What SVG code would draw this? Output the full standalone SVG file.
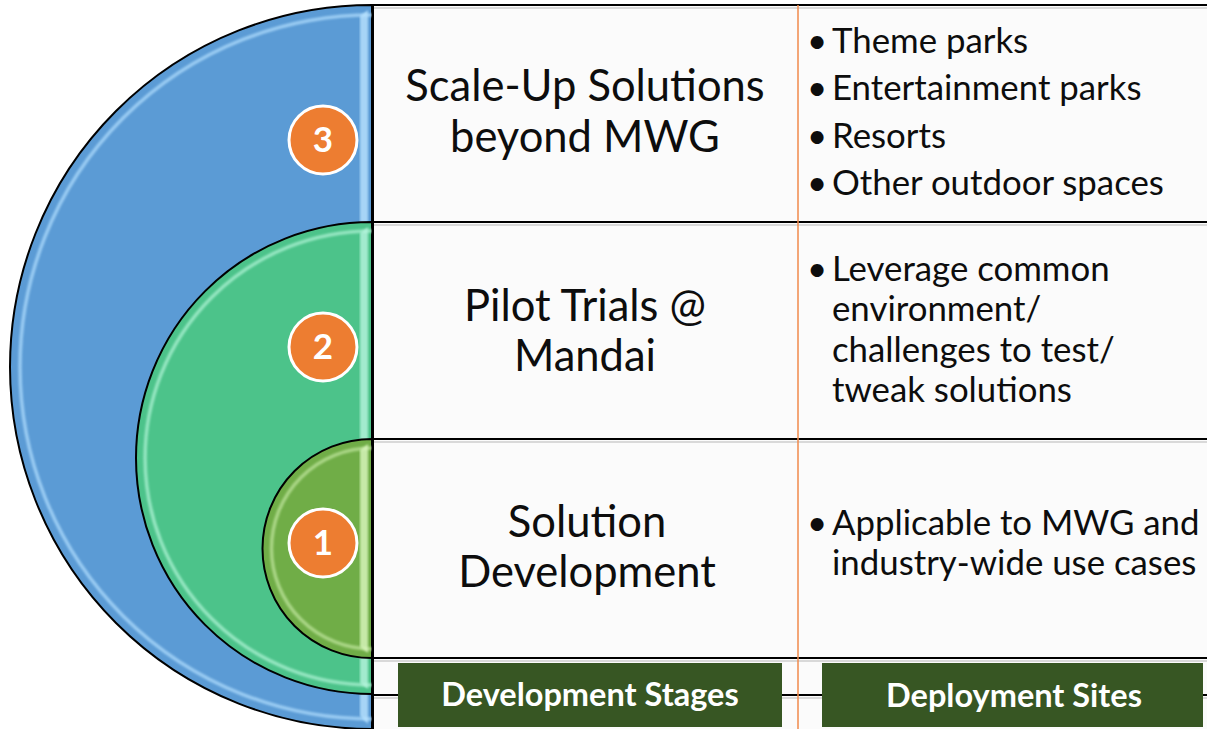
<svg xmlns="http://www.w3.org/2000/svg" width="1207" height="729" viewBox="0 0 1207 729">
  <style>
    .title { font-family: Lato, "Open Sans", sans-serif; font-size: 43.5px; fill: #0d0d0d; text-anchor: middle; }
    .item { font-family: Lato, "Open Sans", sans-serif; font-size: 34.8px; fill: #0d0d0d; }
    .dot { font-family: Lato, "Open Sans", sans-serif; font-size: 34.8px; fill: #0d0d0d; text-anchor: middle; }
    .num { font-family: Lato, "Open Sans", sans-serif; font-size: 35px; font-weight: bold; fill: #ffffff; text-anchor: middle; }
    .tag { font-family: Lato, "Open Sans", sans-serif; font-size: 32.5px; font-weight: bold; fill: #ffffff; text-anchor: middle; }
    .rule { stroke: #000000; stroke-width: 2; fill: none; }
    .shade { stroke: #d9d9d9; stroke-width: 2; fill: none; }
    .badge { fill: #ed7d31; stroke: #ffffff; stroke-width: 3; }
    .tagbox { fill: #375623; }
    .edge { stroke: #000000; stroke-width: 2; }
    .gloss { fill: none; stroke-width: 3.5; filter: url(#soft); }
  </style>
  <defs>
    <filter id="soft" x="-10%" y="-10%" width="120%" height="120%">
      <feGaussianBlur stdDeviation="1.3"/>
    </filter>
  </defs>

  <!-- table background -->
  <rect x="373" y="5" width="834" height="724" fill="#fbfbfb"/>

  <!-- stage 3: outer half disc -->
  <g id="stage3">
    <path class="edge" d="M372,5 A362,362 0 0 0 372,729 Z" fill="#5b9bd5"/>
    <path class="gloss" d="M372,15 A352,352 0 0 0 372,719" stroke="#b4e0ff" opacity="0.7"/>
    <path d="M360,16 L368,10 L368,724 L360,716 Z" fill="#b9e3ff" opacity="0.8" filter="url(#soft)"/>
    <circle class="badge" cx="323" cy="140" r="34"/>
    <text class="num" x="323" y="152">3</text>
  </g>

  <!-- stage 2: middle half disc -->
  <g id="stage2">
    <path class="edge" d="M372,222 A236,236 0 0 0 372,694 Z" fill="#4cc38a"/>
    <path class="gloss" d="M372,231 A227,227 0 0 0 372,685" stroke="#b3f5d8" opacity="0.7"/>
    <path d="M360,233 L368,227 L368,689 L360,683 Z" fill="#b8f5df" opacity="0.8" filter="url(#soft)"/>
    <circle class="badge" cx="323" cy="347" r="34"/>
    <text class="num" x="323" y="359">2</text>
  </g>

  <!-- stage 1: inner half disc -->
  <g id="stage1">
    <path class="edge" d="M372,439 A109.5,109.5 0 0 0 372,658 Z" fill="#70ad47"/>
    <path class="gloss" d="M372,448 A100.5,100.5 0 0 0 372,649" stroke="#d8f7b8" opacity="0.55"/>
    <path d="M360,450 L368,444 L368,653 L360,647 Z" fill="#dcf8c0" opacity="0.8" filter="url(#soft)"/>
    <circle class="badge" cx="323" cy="543" r="34"/>
    <text class="num" x="323" y="555">1</text>
  </g>

  <!-- table rules -->
  <g id="connectors">
    <path class="shade" d="M373,8 H1207 M373,225 H1207 M373,442 H1207 M373,661 H1207 M373,698 H1207"/>
    <path class="rule" d="M373,5 H1207 M373,222 H1207 M373,439 H1207 M373,658 H1207 M373,695 H1207"/>
    <path class="rule" d="M373,4 V729"/>
    <path d="M798,5 V729" stroke="#f08a4b" stroke-width="1.5"/>
  </g>

  <!-- row 3 texts -->
  <g id="row3">
    <text class="title" x="585" y="101">Scale-Up Solutions</text>
    <text class="title" x="585" y="152">beyond MWG</text>
    <text class="dot" x="817" y="53">•</text>
    <text class="item" x="832" y="53">Theme parks</text>
    <text class="dot" x="817" y="100">•</text>
    <text class="item" x="832" y="100">Entertainment parks</text>
    <text class="dot" x="817" y="148">•</text>
    <text class="item" x="832" y="148">Resorts</text>
    <text class="dot" x="817" y="195">•</text>
    <text class="item" x="832" y="195">Other outdoor spaces</text>
  </g>

  <!-- row 2 texts -->
  <g id="row2">
    <text class="title" x="585" y="321">Pilot Trials @</text>
    <text class="title" x="585" y="371">Mandai</text>
    <text class="dot" x="817" y="281">•</text>
    <text class="item" x="832" y="281">Leverage common</text>
    <text class="item" x="832" y="321">environment/</text>
    <text class="item" x="832" y="362">challenges to test/</text>
    <text class="item" x="832" y="402">tweak solutions</text>
  </g>

  <!-- row 1 texts -->
  <g id="row1">
    <text class="title" x="587" y="537">Solution</text>
    <text class="title" x="587" y="587">Development</text>
    <text class="dot" x="817" y="535">•</text>
    <text class="item" x="832" y="535">Applicable to MWG and</text>
    <text class="item" x="832" y="575">industry-wide use cases</text>
  </g>

  <!-- column headers -->
  <g id="stagesLabel">
    <rect class="tagbox" x="398" y="663" width="384" height="64"/>
    <text class="tag" x="590" y="706">Development Stages</text>
  </g>
  <g id="sitesLabel">
    <rect class="tagbox" x="822" y="663" width="381" height="64"/>
    <text class="tag" x="1014" y="707">Deployment Sites</text>
  </g>
</svg>
